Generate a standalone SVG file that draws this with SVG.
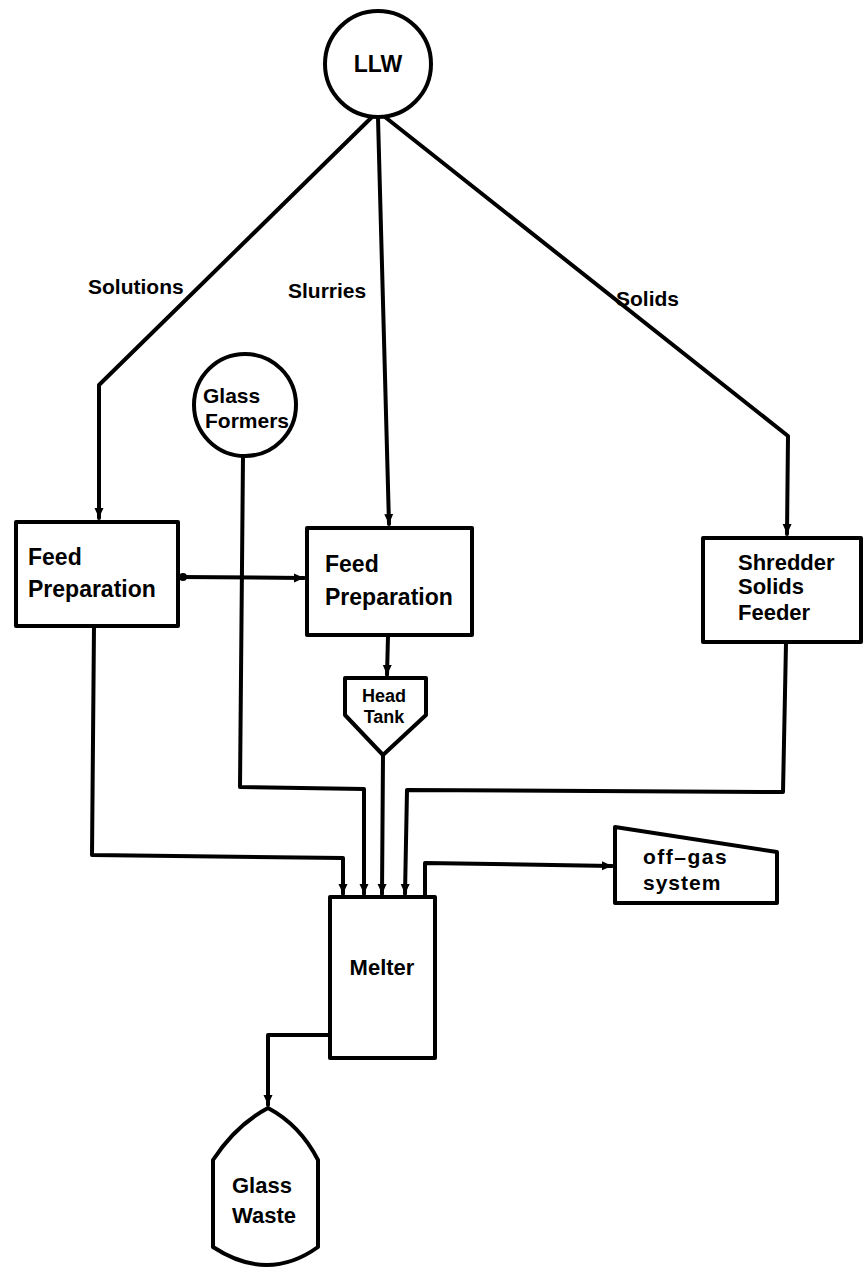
<svg xmlns="http://www.w3.org/2000/svg" width="864" height="1269" viewBox="0 0 864 1269">
<defs>
<style>
.shape{fill:#fff;stroke:#000;stroke-width:4;stroke-linejoin:round}
.line{fill:none;stroke:#000;stroke-width:4;stroke-linejoin:round;stroke-linecap:round}
text{font-family:"Liberation Sans",Arial,sans-serif;font-weight:bold;fill:#000}
.t23{font-size:23px}
.t22{font-size:22px}
.t21{font-size:21px}
.t18{font-size:18px}
</style>
<marker id="arr" markerUnits="userSpaceOnUse" markerWidth="10" markerHeight="10" refX="10" refY="5" orient="auto">
<path d="M0,0.5 L10,5 L0,9.5 Z" fill="#000"/>
</marker>
<marker id="dot" markerUnits="userSpaceOnUse" markerWidth="10" markerHeight="10" refX="2" refY="5" orient="auto">
<circle cx="5" cy="5" r="4" fill="#000"/>
</marker>
</defs>
<rect width="864" height="1269" fill="#fff"/>

<g id="connectors">
<path class="line" d="M372,117 L99,385 L99,518" marker-end="url(#arr)"/>
<path class="line" d="M378,118 L389,524" marker-end="url(#arr)"/>
<path class="line" d="M385,117 L788,436 L787,534" marker-end="url(#arr)"/>
<path class="line" d="M180,577 L304,578" marker-start="url(#dot)" marker-end="url(#arr)"/>
<path class="line" d="M388,636 L387,675" marker-end="url(#arr)"/>
<path class="line" d="M243,456 L240,787 L364,789 L364,894" marker-end="url(#arr)"/>
<path class="line" d="M94,626 L92,855 L343,858 L343,894" marker-end="url(#arr)"/>
<path class="line" d="M383,755 L382,894" marker-end="url(#arr)"/>
<path class="line" d="M786,643 L783,792 L407,790 L405,894" marker-end="url(#arr)"/>
<path class="line" d="M425,897 L425,863 L612,866" marker-end="url(#arr)"/>
<path class="line" d="M328,1035 L268,1035 L268,1105" marker-end="url(#arr)"/>
</g>

<g id="llw">
<circle class="shape" cx="378" cy="64" r="53"/>
<text class="t23" x="378" y="72" text-anchor="middle">LLW</text>
</g>

<g id="label-solutions"><text class="t21" x="88" y="294">Solutions</text></g>
<g id="label-slurries"><text class="t21" x="288" y="298">Slurries</text></g>
<g id="label-solids"><text class="t21" x="616" y="306">Solids</text></g>

<g id="glass-formers">
<circle class="shape" cx="245" cy="405" r="51"/>
<text class="t21" x="203" y="403">Glass</text>
<text class="t21" x="205" y="428">Formers</text>
</g>

<g id="feed-prep-1">
<rect class="shape" x="16" y="522" width="162" height="104"/>
<text class="t23" x="28" y="565">Feed</text>
<text class="t23" x="28" y="597">Preparation</text>
</g>

<g id="feed-prep-2">
<rect class="shape" x="307" y="528" width="165" height="107"/>
<text class="t23" x="325" y="572">Feed</text>
<text class="t23" x="325" y="605">Preparation</text>
</g>

<g id="shredder">
<rect class="shape" x="703" y="538" width="158" height="104"/>
<text class="t22" x="738" y="570">Shredder</text>
<text class="t22" x="738" y="594">Solids</text>
<text class="t22" x="738" y="620">Feeder</text>
</g>

<g id="head-tank">
<polygon class="shape" points="345,678 426,678 426,715 383,755 345,715"/>
<text class="t18" x="384" y="702" text-anchor="middle">Head</text>
<text class="t18" x="384" y="723" text-anchor="middle">Tank</text>
</g>

<g id="melter">
<rect class="shape" x="330" y="897" width="105" height="161"/>
<text class="t22" x="382" y="975" text-anchor="middle">Melter</text>
</g>

<g id="off-gas">
<polygon class="shape" points="615,827 777,852 777,903 615,903"/>
<text class="t21" x="643" y="864" letter-spacing="1.5">off–gas</text>
<text class="t21" x="643" y="890" letter-spacing="1">system</text>
</g>

<g id="glass-waste">
<path class="shape" d="M268,1108 Q300,1125 318,1160 L318,1247 Q268,1283 213,1247 L213,1160 Q236,1125 268,1108 Z"/>
<text class="t22" x="232" y="1193">Glass</text>
<text class="t22" x="232" y="1223">Waste</text>
</g>
</svg>
